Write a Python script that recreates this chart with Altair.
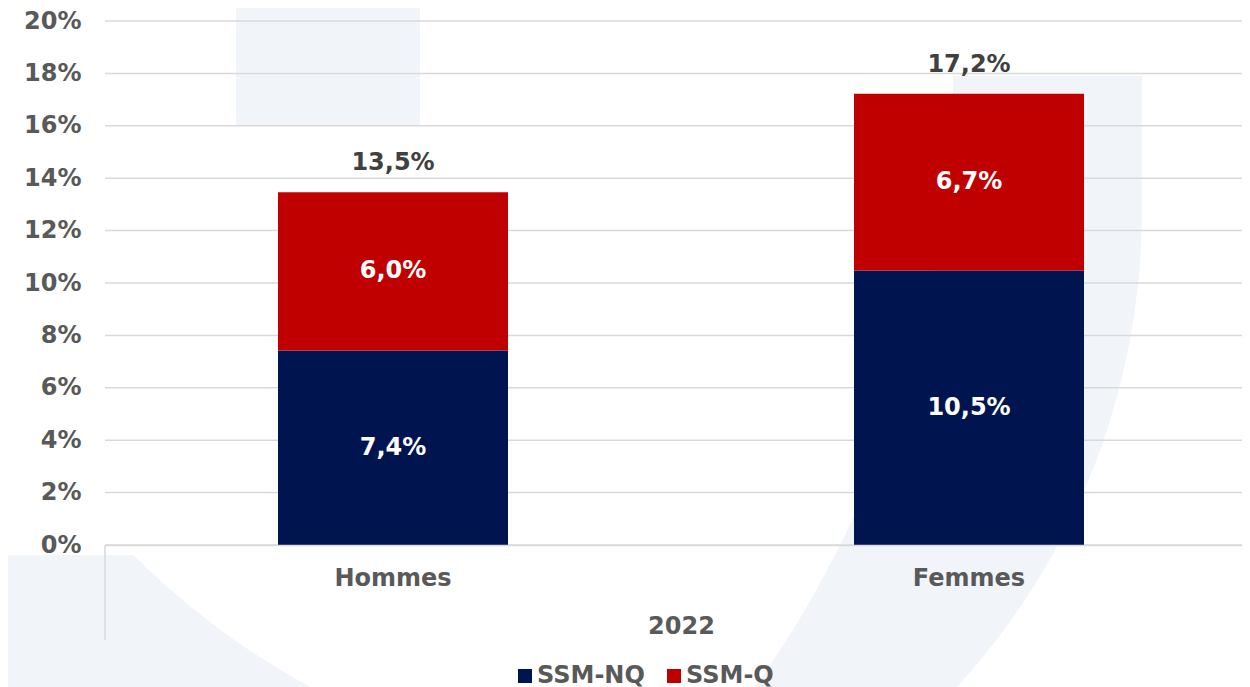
import altair as alt
import pandas as pd
import math

categories = ["Hommes", "Femmes"]
series = ["SSM-NQ", "SSM-Q"]
ssm_nq = [7.42, 10.48]
ssm_q = [6.04, 6.74]
colors = ["#001550", "#C00000"]
y_ticks = [0, 2, 4, 6, 8, 10, 12, 14, 16, 18, 20]
group_label = "2022"

rows = []
for i, c in enumerate(categories):
    rows.append({"cat": c, "serie": series[0], "rank": 0, "v": ssm_nq[i]})
    rows.append({"cat": c, "serie": series[1], "rank": 1, "v": ssm_q[i]})
df = pd.DataFrame(rows)
ticks_df = pd.DataFrame({"t": y_ticks})

FONT = "DejaVu Sans"
GREY = "#595959"
GRID = "#D9D9D9"
WM = "#F1F5FA"  # faint background watermark colour

W, H = 1137, 524
x_scale = alt.Scale(paddingInner=0, paddingOuter=0, range=[0, 1152])
y_scale = alt.Scale(domain=[0, 20], nice=False)

x_enc = alt.X(
    "cat:N",
    sort=categories,
    scale=x_scale,
    axis=alt.Axis(
        title=group_label,
        labelFontSize=24,
        labelFont=FONT,
        labelFontWeight="bold",
        labelColor=GREY,
        labelPadding=21,
        labelAngle=0,
        ticks=False,
        domain=True,
        domainColor=GRID,
        domainWidth=1.5,
        titleFontSize=24,
        titleFont=FONT,
        titleFontWeight="bold",
        titleColor=GREY,
        titlePadding=24,
        zindex=2,
    ),
)

# --- decorative watermark (background logo), drawn first ---
one = pd.DataFrame({"k": [0]})
wm_right_sector = alt.Chart(one).mark_arc(color=WM).encode(
    x=alt.value(332), y=alt.value(190),
    radius=alt.value(705),
    theta=alt.value(math.pi / 2), theta2=alt.value(math.pi),
)
wm_right_cut = alt.Chart(one).mark_arc(color="white").encode(
    x=alt.value(-228), y=alt.value(44),
    radius=alt.value(1076),
    theta=alt.value(math.pi / 2), theta2=alt.value(math.pi),
)
wm_rect_right = alt.Chart(one).mark_rect(color=WM).encode(
    x=alt.value(848), x2=alt.value(1037), y=alt.value(55), y2=alt.value(191)
)
wm_rect_left = alt.Chart(one).mark_rect(color=WM).encode(
    x=alt.value(131), x2=alt.value(315), y=alt.value(-21), y2=alt.value(104)
)
wm_rect_bl = alt.Chart(one).mark_rect(color=WM).encode(
    x=alt.value(-105), x2=alt.value(28), y=alt.value(534), y2=alt.value(670)
)
wm_arc_bl = alt.Chart(one).mark_arc(color=WM).encode(
    x=alt.value(572), y=alt.value(-10),
    radius=alt.value(1200), radius2=alt.value(769),
    theta=alt.value(math.pi), theta2=alt.value(5 * math.pi / 4),
)

grid = alt.Chart(ticks_df).mark_rule(color=GRID, strokeWidth=1.5).encode(
    y=alt.Y("t:Q", scale=y_scale)
)

bars = (
    alt.Chart(df)
    .mark_bar(size=230)
    .encode(
        x=x_enc,
        y=alt.Y(
            "v:Q",
            stack="zero",
            scale=y_scale,
            axis=alt.Axis(
                title=None,
                values=y_ticks,
                labelExpr="datum.value + '%'",
                labelFontSize=24,
                labelFont=FONT,
                labelFontWeight="bold",
                labelColor=GREY,
                labelPadding=24,
                ticks=False,
                domain=False,
                grid=False,
                zindex=2,
            ),
        ),
        color=alt.Color(
            "serie:N",
            scale=alt.Scale(domain=series, range=colors),
            legend=alt.Legend(
                title=None,
                orient="none",
                direction="horizontal",
                legendX=408,
                legendY=643,
                symbolType="square",
                symbolSize=196,
                symbolStrokeWidth=0,
                labelFontSize=24,
                labelFont=FONT,
                labelFontWeight="bold",
                labelColor=GREY,
                labelOffset=0,
                columnPadding=17,
                padding=0,
            ),
        ),
        order=alt.Order("rank:Q", sort="ascending"),
    )
)

seg_labels = (
    alt.Chart(df)
    .transform_stack(stack="v", groupby=["cat"], as_=["v0", "v1"], sort=[alt.SortField("rank", "ascending")])
    .transform_calculate(
        mid="(datum.v0 + datum.v1) / 2",
        lab="replace(format(datum.v, '.1f'), '.', ',') + '%'",
    )
    .mark_text(font=FONT, fontWeight="bold", fontSize=24, color="white", baseline="middle")
    .encode(x=alt.X("cat:N", sort=categories, scale=x_scale), y=alt.Y("mid:Q", scale=y_scale), text="lab:N")
)

total_labels = (
    alt.Chart(df)
    .transform_aggregate(total="sum(v)", groupby=["cat"])
    .transform_calculate(lab="replace(format(datum.total, '.1f'), '.', ',') + '%'")
    .mark_text(font=FONT, fontWeight="bold", fontSize=24, color="#404040", baseline="alphabetic", dy=-22)
    .encode(x=alt.X("cat:N", sort=categories, scale=x_scale), y=alt.Y("total:Q", scale=y_scale), text="lab:N")
)

divider = alt.Chart(one).mark_rule(color=GRID, strokeWidth=1.5).encode(
    x=alt.value(0), y=alt.value(524), y2=alt.value(619)
)

chart = (
    alt.layer(
        wm_right_sector, wm_right_cut, wm_rect_right, wm_rect_left, wm_rect_bl, wm_arc_bl,
        grid, bars, seg_labels, total_labels, divider,
    )
    .properties(
        width=W,
        height=H,
        autosize=alt.AutoSizeParams(type="none"),
        padding={"left": 97, "top": 13, "right": 0, "bottom": 142},
    )
    .configure_view(stroke=None)
)

chart.save("out.html", embed_options={"renderer": "svg", "actions": False})
